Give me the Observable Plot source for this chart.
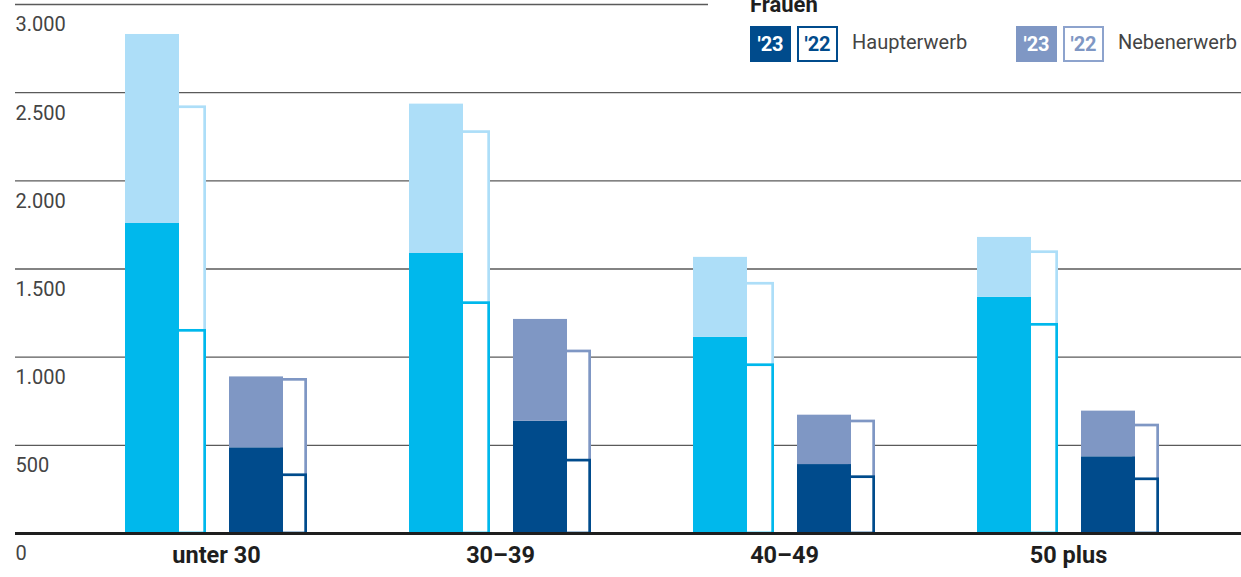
<!DOCTYPE html>
<html>
<head>
<meta charset="utf-8">
<script src="https://cdn.jsdelivr.net/npm/d3@7"></script>
<script src="https://cdn.jsdelivr.net/npm/@observablehq/plot@0.6"></script>
<style>
  html, body { margin: 0; padding: 0; background: #fff; }
  #wrap { position: relative; width: 1241px; height: 577px; overflow: hidden; font-family: Roboto, "Open Sans", sans-serif; }
  #chart { position: absolute; left: 0; top: 0; }
  #legend { position: absolute; left: 708px; top: 0; width: 533px; height: 70px; background: #fff; }
  .title { position: absolute; left: 42px; top: -6px; font-weight: 700; font-size: 22px; line-height: 22px; color: #1e1e1e; }
  .box { position: absolute; top: 26px; width: 41px; height: 36px; box-sizing: border-box; display: flex; align-items: center; justify-content: center; font-weight: 700; font-size: 20px; }
  .lbl { position: absolute; top: 30px; font-size: 20px; line-height: 24px; color: #444; }
</style>
</head>
<body>
<div id="wrap">
  <div id="chart"></div>
  <div id="legend"></div>
</div>
<script>
// ---- data ----
const categories = ["unter 30", "30–39", "40–49", "50 plus"];
const maenner23Haupt = [1758, 1588, 1112, 1339];
const maenner23Neben = [1072, 847, 454, 340];
const maenner22Haupt = [1157, 1314, 962, 1191];
const maenner22Neben = [1268, 970, 462, 412];
const frauen23Haupt = [486, 637, 391, 435];
const frauen23Neben = [402, 577, 280, 259];
const frauen22Haupt = [338, 421, 327, 315];
const frauen22Neben = [541, 619, 316, 305];
const yTicks = [0, 500, 1000, 1500, 2000, 2500, 3000];
const legendTitle = "Frauen";
const legendYears = ["'23", "'22"];
const legendTypes = ["Haupterwerb", "Nebenerwerb"];

// ---- styling ----
const cyan = "#00b8ec", lightBlue = "#addef8", navy = "#004b8c", blueGray = "#7f97c4";
const fmt = d3.formatLocale({decimal: ",", thousands: ".", grouping: [3], currency: ["", "€"]}).format(",d");

const series = [
  {haupt: maenner22Haupt, neben: maenner22Neben, slot: [0.360, 0.4648], cH: cyan, cN: lightBlue, outline: true},
  {haupt: frauen22Haupt, neben: frauen22Neben, slot: [0.7264, 0.8204], cH: navy, cN: blueGray, outline: true},
  {haupt: maenner23Haupt, neben: maenner23Neben, slot: [0.1796, 0.3697], cH: cyan, cN: lightBlue, outline: false},
  {haupt: frauen23Haupt, neben: frauen23Neben, slot: [0.5458, 0.7359], cH: navy, cN: blueGray, outline: false}
];

const marks = [
  Plot.ruleY(yTicks.filter(d => d > 0), {stroke: "#5a5a5a", strokeWidth: 1.4})
];

for (const s of series) {
  const rows = categories.map((c, i) => ({
    x1: i + s.slot[0], x2: i + s.slot[1],
    haupt: s.haupt[i], total: s.haupt[i] + s.neben[i]
  }));
  if (s.outline) {
    const ins = {insetLeft: 1.35, insetRight: 1.35, insetTop: 1.35, insetBottom: 0};
    marks.push(Plot.rectY(rows, {x1: "x1", x2: "x2", y1: 0, y2: "total", fill: "#fff", stroke: s.cN, strokeWidth: 2.7, ...ins}));
    marks.push(Plot.rectY(rows, {x1: "x1", x2: "x2", y1: 0, y2: "haupt", fill: "#fff", stroke: s.cH, strokeWidth: 2.7, ...ins}));
  } else {
    marks.push(Plot.rectY(rows, {x1: "x1", x2: "x2", y1: 0, y2: "haupt", fill: s.cH}));
    marks.push(Plot.rectY(rows, {x1: "x1", x2: "x2", y1: "haupt", y2: "total", fill: s.cN}));
  }
}

marks.push(Plot.ruleY([0], {stroke: "#1e1e1e", strokeWidth: 3}));
marks.push(Plot.text(yTicks, {y: d => d, text: d => fmt(d), frameAnchor: "left", textAnchor: "start", dy: 20.5, fill: "#444", fontSize: 20}));
marks.push(Plot.text(categories, {x: (d, i) => i + 0.5, frameAnchor: "bottom", dy: 29, text: d => d, fontWeight: 700, fontSize: 23.5, fill: "#1e1e1e"}));

const chart = Plot.plot({
  width: 1241,
  height: 577,
  marginTop: 4,
  marginBottom: 44,
  marginLeft: 15,
  marginRight: 0,
  x: {type: "linear", domain: [0, 4], range: [74, 1210], axis: null},
  y: {domain: [0, 3000], axis: null},
  style: {fontFamily: "Roboto, sans-serif", background: "transparent"},
  marks
});
document.getElementById("chart").appendChild(chart);

// ---- legend ----
const lg = document.getElementById("legend");
const t = document.createElement("div");
t.className = "title"; t.textContent = legendTitle; lg.appendChild(t);
const groups = [
  {x: 42, c: navy, border: navy, label: legendTypes[0]},
  {x: 308, c: blueGray, border: "#8da3cd", label: legendTypes[1]}
];
for (const g of groups) {
  const b1 = document.createElement("div");
  b1.className = "box"; b1.style.left = g.x + "px"; b1.style.background = g.c; b1.style.color = "#fff";
  b1.textContent = legendYears[0]; lg.appendChild(b1);
  const b2 = document.createElement("div");
  b2.className = "box"; b2.style.left = (g.x + 47) + "px"; b2.style.border = "2.5px solid " + g.border; b2.style.color = g.c;
  b2.textContent = legendYears[1]; lg.appendChild(b2);
  const l = document.createElement("div");
  l.className = "lbl"; l.style.left = (g.x + 102) + "px"; l.textContent = g.label; lg.appendChild(l);
}
</script>
</body>
</html>
